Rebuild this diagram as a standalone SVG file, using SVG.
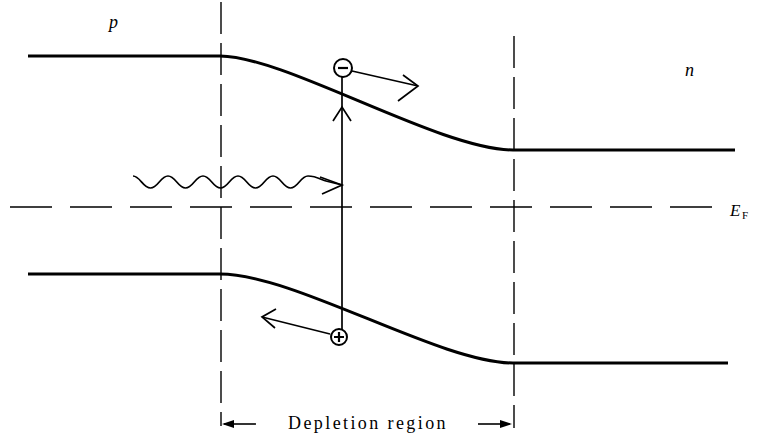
<svg xmlns="http://www.w3.org/2000/svg" width="759" height="434" viewBox="0 0 759 434">
<style>
.band{fill:none;stroke:#000;stroke-width:3}
.thin{fill:none;stroke:#000;stroke-width:1.7}
.dash{fill:none;stroke:#000;stroke-width:1.4;stroke-dasharray:32 9}
.hdash{fill:none;stroke:#000;stroke-width:1.4;stroke-dasharray:42 18}
.lbl{font-family:"Liberation Serif",serif;fill:#000}
</style>
<rect width="759" height="434" fill="#fff"/>
<g id="conduction-band"><path class="band" d="M28,56 L220,56 C285,56 440,150 513,150 L735,150"/></g>
<g id="valence-band"><path class="band" d="M28,274 L220,274 C295,274 440,363 513,363 L728,363"/></g>
<g id="boundaries">
<path class="dash" d="M221,2 V426"/>
<path class="dash" d="M514,36 V428"/>
</g>
<g id="fermi-level"><path class="hdash" d="M10,207 H728"/>
<text class="lbl" x="730" y="216" font-size="17" font-style="italic">E</text><text class="lbl" x="742" y="219" font-size="11">F</text></g>
<g id="labels">
<text class="lbl" x="109" y="28" font-size="18" font-style="italic">p</text>
<text class="lbl" x="685" y="76" font-size="18" font-style="italic">n</text>
</g>
<g id="electron">
<circle cx="343" cy="68" r="9" fill="#fff" stroke="#000" stroke-width="2"/>
<path d="M338,68 H348" stroke="#000" stroke-width="2.2"/>
</g>
<g id="hole">
<circle cx="339" cy="337" r="8" fill="#fff" stroke="#000" stroke-width="2"/>
<path d="M334,337 H344 M339,332 V342" stroke="#000" stroke-width="2.2"/>
</g>
<g id="connectors">
<path class="thin" d="M342,77 V329"/>
<path class="thin" d="M333,121 L342,107 L351,121"/>
<path class="thin" d="M133,176 c7,0 10,12 17.5,12 s10,-12 17.5,-12 s10,12 17.5,12 s10,-12 17.5,-12 s10,12 17.5,12 s10,-12 17.5,-12 s10,12 17.5,12 s10,-12 17.5,-12 s10,12 17.5,12 s10,-12 17.5,-12 c8,0 14,4 18,5 L342,185"/>
<path class="thin" d="M320,177 L342,185 L322,194"/>
<path class="thin" d="M352,71 L418,86"/>
<path class="thin" d="M398,101 L418,86 L403,75"/>
<path class="thin" d="M330,334 L262,317"/>
<path class="thin" d="M276,309 L262,317 L275,328"/>
<path d="M224,424 H256" stroke="#000" stroke-width="1.6"/>
<path d="M222,424 L234,420 L234,428 Z" fill="#000"/>
<path d="M478,424 H510" stroke="#000" stroke-width="1.6"/>
<path d="M512,424 L500,420 L500,428 Z" fill="#000"/>
</g>
<g id="depletion-label"><text class="lbl" x="368" y="429" font-size="18" letter-spacing="2.4" text-anchor="middle">Depletion region</text></g>
</svg>
